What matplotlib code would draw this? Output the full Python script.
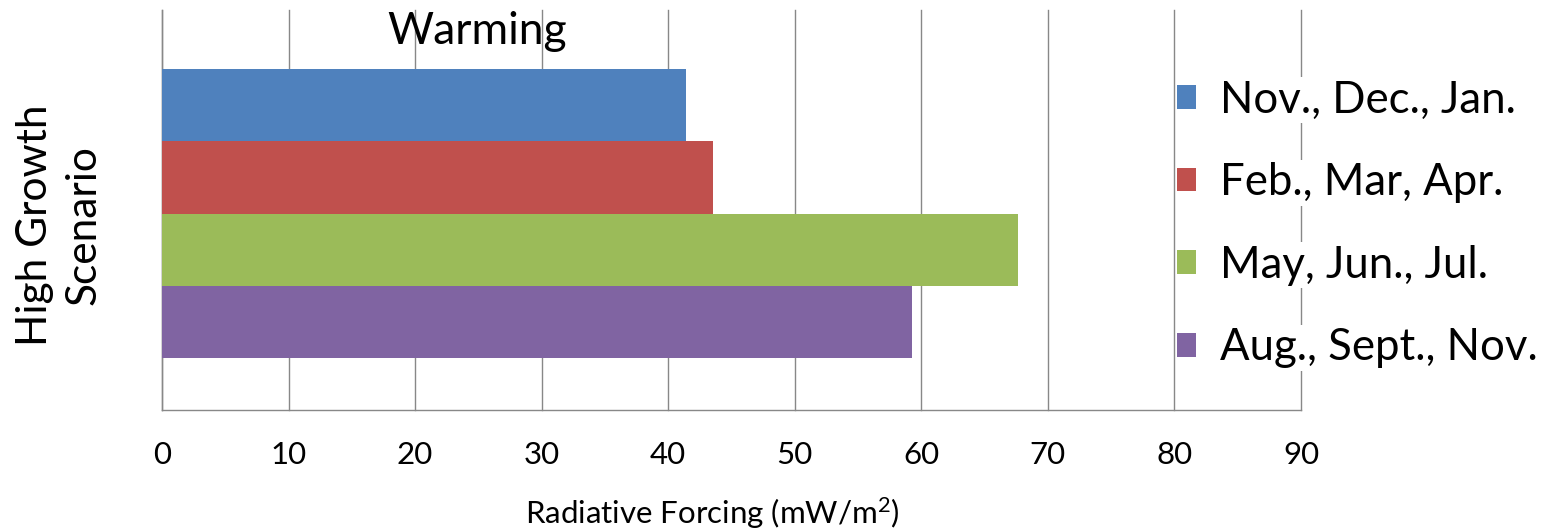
import matplotlib
matplotlib.use("Agg")
import matplotlib.pyplot as plt
import numpy as np

# Data
seasons = ["Nov., Dec., Jan.", "Feb., Mar, Apr.", "May, Jun., Jul.", "Aug., Sept., Nov."]
forcing = [41.4, 43.5, 67.6, 59.3]
colors = ["#4F81BD", "#C0504D", "#9BBB59", "#8064A2"]
xticks = [0, 10, 20, 30, 40, 50, 60, 70, 80, 90]

plt.rcParams['font.family'] = ['Lato', 'DejaVu Sans']
plt.rcParams['mathtext.default'] = 'regular'

fig = plt.figure(figsize=(15.44, 5.28), dpi=100)
ax = fig.add_axes([162/1544, 1 - 410/528, (1301-162)/1544, 400/528])

h = 0.181
for i in range(len(seasons)):
    y = (1.5 - i) * h - 0.009
    ax.barh(y, forcing[i], height=h, color=colors[i], label=seasons[i], zorder=3)

ax.set_xlim(0, 90)
ax.set_ylim(-0.5, 0.5)
ax.set_xticks(xticks)
ax.set_yticks([])
ax.grid(axis='x', color='#888888', linewidth=1, zorder=0)
for gl in ax.get_xgridlines():
    gl.set_clip_on(False)
ax.tick_params(axis='x', length=0, labelsize=22.5, pad=22)
for s in ['top', 'right']:
    ax.spines[s].set_visible(False)
for s in ['left', 'bottom']:
    ax.spines[s].set_color('#888888')
    ax.spines[s].set_linewidth(1)

fig.text(712/1544, 1 - 513/528, "Radiative Forcing (mW/m$^2$)", fontsize=22.5,
         ha='center', va='center')

fig.text(477/1544, 1 - 31/528, "Warming", fontsize=32, ha='center', va='center')
fig.text(59/1544, 1 - 225/528, "High Growth\nScenario", fontsize=30.5, rotation=90,
         ha='center', va='center', linespacing=1.35)

leg = ax.legend(loc='center left', bbox_to_anchor=(1159/1544, 1 - 224/528),
                bbox_transform=fig.transFigure, frameon=False, fontsize=31.5,
                handlelength=0.45, handleheight=0.45, handletextpad=0.55,
                labelspacing=0.95, borderaxespad=0)
for t in leg.get_texts():
    t.set_bbox(dict(facecolor='white', edgecolor='none', pad=2))

fig.savefig("out.png", dpi=100)
